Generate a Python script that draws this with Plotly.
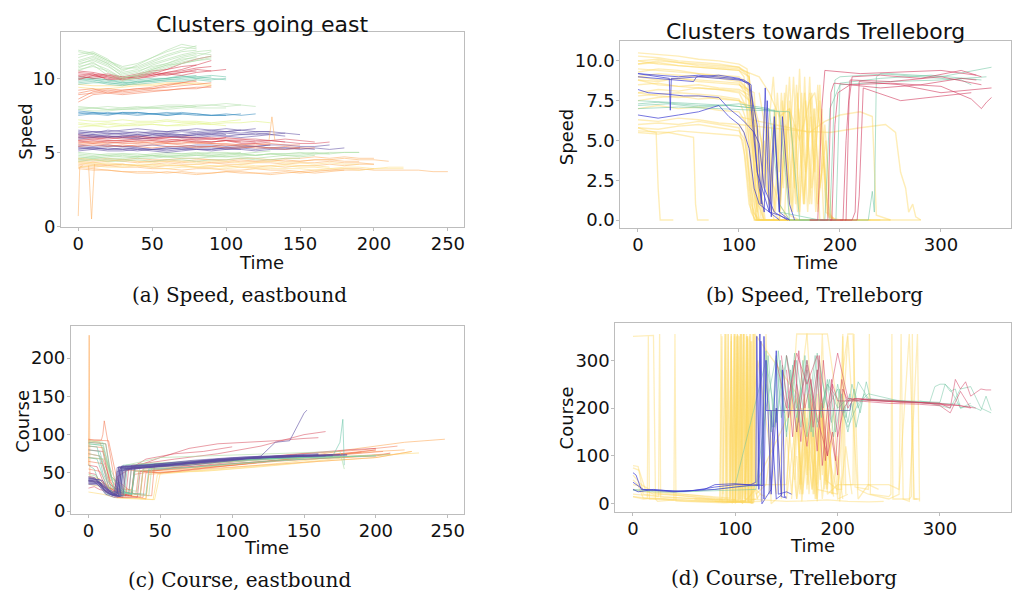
import plotly.graph_objects as go

# ---------------- colours (Spectral-like) ----------------
RED = "213,62,79"
ORANGE = "244,109,67"
LORANGE = "253,174,97"
YELLOW = "254,224,139"
LGREEN = "230,245,152"
GREEN = "171,221,164"
TEAL = "102,194,165"
BLUE = "50,136,189"
PURPLE = "94,79,162"
T_YELLOW = "253,214,95"
T_BLUE = "60,60,210"
T_GREEN = "110,196,160"
T_RED = "210,60,95"
T_GREY = "90,90,170"

# ---------------- (a) Speed, eastbound: values every A_STEP time units ----------------
A_STEP = 10
A_GREEN_TOP = [
    [11.2, 11.5, 11.0, 10.4, 10.6, 11.0, 11.3, 11.6, 11.8, 11.9],
    [10.8, 11.0, 10.6, 10.0, 10.3, 10.7, 11.0, 11.4, 11.6],
    [11.6, 11.8, 11.3, 10.5, 10.9, 11.4, 11.8, 12.1, 12.0],
    [10.5, 10.9, 10.2, 9.8, 10.1, 10.5, 10.8, 11.1, 11.3, 11.5],
    [11.0, 11.2, 10.8, 10.2, 10.4, 10.9, 11.2, 11.5, 11.7, 11.6],
    [11.8, 11.6, 11.1, 10.6, 10.8, 11.2, 11.6, 11.9, 12.2],
    [10.9, 11.3, 10.9, 10.1, 10.2, 10.6, 10.9, 11.2, 11.5, 11.8],
    [11.4, 11.7, 11.2, 10.7, 10.7, 11.1, 11.5, 11.8, 11.9],
    [10.7, 11.1, 10.4, 9.9, 10.0, 10.4, 10.7, 11.0, 11.2, 11.3],
    [11.1, 11.4, 11.0, 10.3, 10.5, 10.8, 11.0, 11.3, 11.4],
    [11.9, 11.7, 11.2, 10.8, 11.0, 11.4, 11.9, 12.3, 12.1],
    [10.6, 10.8, 10.5, 10.0, 10.2, 10.6, 10.9, 11.0, 11.2, 11.4],
]
A_RED_TOP = [
    [10.3, 10.2, 10.0, 9.9, 10.1, 10.2, 10.4, 10.5, 10.7, 10.8],
    [10.1, 10.3, 9.9, 10.0, 10.2, 10.3, 10.6, 11.0, 11.3, 11.5],
    [10.4, 10.3, 10.1, 10.0, 10.2, 10.4, 10.3, 10.4, 10.5],
    [10.0, 10.1, 10.2, 10.0, 10.1, 10.3, 10.2, 10.4, 10.6, 10.5, 10.6],
    [10.5, 10.4, 10.2, 10.1, 10.3, 10.5, 10.6, 10.8, 10.9],
    [10.2, 10.0, 10.1, 9.9, 10.0, 10.1, 10.3, 10.2, 10.4, 10.5],
    [9.9, 10.2, 10.3, 10.1, 10.0, 10.2, 10.4, 10.6, 10.9, 11.2],
]
A_TEAL_TOP = [
    [9.8, 9.9, 9.7, 9.6, 9.8, 9.9, 10.0, 10.1, 10.1, 10.0, 9.9],
    [10.0, 9.9, 9.8, 9.7, 9.7, 9.8, 9.9, 9.9, 10.0, 10.1],
    [9.7, 9.8, 9.6, 9.5, 9.7, 9.9, 10.0, 10.2, 10.0, 9.9, 10.0],
    [9.9, 10.0, 9.9, 9.7, 9.8, 9.8, 9.9, 10.0, 10.1, 10.2, 10.1],
    [9.6, 9.7, 9.7, 9.6, 9.6, 9.7, 9.8, 9.8, 9.9, 9.8],
    [10.1, 10.0, 9.9, 9.8, 9.9, 10.0, 10.0, 10.1, 10.2],
]
A_ORANGE_TOP = [
    [8.6, 9.1, 9.2, 9.1, 9.2, 9.3, 9.4, 9.5, 9.6, 9.7],
    [9.2, 9.3, 9.0, 9.2, 9.3, 9.3, 9.5, 9.7, 9.8],
    [8.9, 9.0, 9.1, 9.0, 9.1, 9.2, 9.2, 9.3, 9.4, 9.4],
    [8.4, 8.9, 9.0, 8.9, 9.0, 9.1, 9.2, 9.3, 9.3, 9.5],
    [9.0, 9.2, 9.3, 9.2, 9.3, 9.4, 9.6, 9.7, 9.9],
]
A_YELLOW_TOP = [
    [9.4, 9.3, 9.3, 9.4, 9.5, 9.5, 9.6, 9.6, 9.7, 9.6],
    [9.6, 9.5, 9.5, 9.5, 9.6, 9.6, 9.7, 9.7, 9.6, 9.5],
]
A_LGREEN_8 = [
    [8.0, 8.0, 7.9, 8.0, 8.1, 8.0, 8.1, 8.1, 8.2, 8.2, 8.1, 8.2, 8.1],
    [7.9, 7.8, 7.8, 7.9, 7.9, 8.0, 8.0, 8.1, 8.0, 8.0, 8.0],
    [8.1, 8.0, 8.1, 8.0, 8.0, 8.1, 8.2, 8.2, 8.1, 8.2, 8.3, 8.2],
    [7.9, 8.0, 7.9, 7.9, 8.0, 8.0, 7.9, 8.0, 8.1],
]
A_BLUE_76 = [
    [7.6, 7.7, 7.6, 7.6, 7.5, 7.6, 7.6, 7.7, 7.6, 7.5, 7.6, 7.5, 7.6],
    [7.7, 7.6, 7.7, 7.6, 7.7, 7.6, 7.5, 7.6, 7.6, 7.5, 7.5],
    [7.5, 7.6, 7.5, 7.7, 7.6, 7.6, 7.5, 7.6, 7.5, 7.5, 7.5, 7.6],
    [7.8, 7.7, 7.6, 7.7, 7.7, 7.6, 7.7, 7.6],
]
A_LGREEN_7 = [
    [7.0, 6.9, 7.0, 6.9, 7.0, 7.0, 7.1, 7.0, 7.0, 6.9, 7.0, 7.0, 7.1, 7.0],
    [6.7, 6.8, 6.7, 6.8, 6.8, 6.9, 6.8, 6.8, 6.9, 6.9, 6.8],
    [7.2, 7.1, 7.1, 7.2, 7.1, 7.1, 7.2, 7.1, 7.1, 7.0, 7.1, 7.2],
    [6.9, 6.8, 6.9, 6.8, 6.9, 6.9, 6.8, 6.9, 7.0, 6.9],
]
A_PURPLE_6 = [
    [6.3, 6.2, 6.3, 6.2, 6.1, 6.2, 6.3, 6.2, 6.3, 6.3, 6.4, 6.3, 6.4, 6.4, 6.3],
    [6.0, 6.1, 6.0, 6.1, 6.0, 6.2, 6.1, 6.1, 6.2, 6.2, 6.1, 6.2, 6.3, 6.2, 6.3, 6.2],
    [6.4, 6.3, 6.5, 6.4, 6.3, 6.4, 6.4, 6.5, 6.4, 6.5, 6.4, 6.5],
    [6.2, 6.1, 6.2, 6.3, 6.2, 6.1, 6.2, 6.2, 6.1, 6.2, 6.3, 6.2, 6.2, 6.3],
    [6.5, 6.4, 6.4, 6.5, 6.6, 6.5, 6.4, 6.5, 6.6, 6.5, 6.6, 6.5, 6.6],
    [5.9, 6.0, 6.1, 6.0, 5.9, 6.0, 6.1, 6.0, 6.0, 6.1, 6.1, 6.0, 6.1, 6.2, 6.1],
    [6.3, 6.4, 6.3, 6.3, 6.4, 6.3, 6.3, 6.4, 6.3, 6.4, 6.4, 6.5, 6.4, 6.4],
    [6.1, 6.2, 6.1, 6.1, 6.2, 6.3, 6.2, 6.1, 6.2, 6.3, 6.2],
]
A_RED_6 = [
    [5.9, 5.9, 6.0, 5.9, 5.9, 6.0, 5.9, 5.8, 5.9, 5.9, 5.8, 5.8, 5.7, 5.8, 5.7, 5.6, 5.6, 5.7],
    [6.1, 6.0, 6.1, 6.0, 6.1, 6.0, 6.0, 6.1, 6.0, 6.0, 5.9, 5.9, 5.8, 5.8, 5.7],
    [5.8, 5.9, 5.8, 5.8, 5.9, 5.9, 5.8, 5.9, 5.8, 5.7, 5.8, 5.7, 5.7],
    [6.0, 6.0, 5.9, 6.0, 6.0, 5.9, 6.0, 6.0, 5.9, 5.9, 6.0, 5.9, 5.9, 5.8, 5.9, 5.8, 5.7],
    [5.7, 5.8, 5.7, 5.7, 5.8, 5.8, 5.7, 5.8, 5.7, 5.7, 5.8, 5.6, 5.6, 5.7],
    [6.2, 6.1, 6.0, 6.1, 6.1, 6.0, 6.1, 6.0, 6.0, 5.9, 6.0],
]
A_ORANGE_55 = [
    [5.7, 5.6, 5.7, 5.6, 5.6, 5.7, 5.6, 5.6, 5.7, 5.6, 5.5, 5.5, 5.6, 5.5],
    [5.5, 5.6, 5.5, 5.4, 5.5, 5.5, 5.6, 5.5, 5.4, 5.4, 5.5, 5.4, 5.3, 5.3, 5.4, 5.3],
    [5.6, 5.7, 5.6, 5.7, 5.7, 5.6, 5.7, 5.7, 5.6, 5.6, 5.6, 5.5, 5.5, 5.6, 5.5, 5.5],
    [5.8, 5.7, 5.8, 5.8, 5.7, 5.8, 5.7, 5.8, 5.7, 5.7, 5.8, 5.7],
    [5.4, 5.5, 5.4, 5.5, 5.4, 5.3, 5.4, 5.4, 5.3, 5.4, 5.3, 5.3, 5.4, 5.3, 5.2, 5.3, 5.3],
]
A_BLUE_52 = [
    [5.3, 5.2, 5.3, 5.2, 5.1, 5.2, 5.2, 5.3, 5.2, 5.2, 5.3, 5.3, 5.4, 5.3, 5.3, 5.3, 5.2],
    [5.2, 5.3, 5.2, 5.3, 5.2, 5.2, 5.1, 5.2, 5.3, 5.3, 5.2, 5.3, 5.2, 5.3, 5.3, 5.2, 5.3, 5.2, 5.3],
    [5.4, 5.3, 5.4, 5.4, 5.3, 5.2, 5.3, 5.3, 5.4, 5.4, 5.3, 5.4, 5.4, 5.5],
    [5.1, 5.2, 5.1, 5.1, 5.2, 5.1, 5.0, 5.1, 5.2, 5.1, 5.2, 5.2, 5.1, 5.2, 5.2, 5.3],
    [5.5, 5.4, 5.5, 5.4, 5.4, 5.5, 5.4, 5.4, 5.5, 5.5, 5.4, 5.5, 5.4, 5.5, 5.5, 5.4, 5.4, 5.5],
    [5.3, 5.3, 5.2, 5.2, 5.3, 5.2, 5.3, 5.2, 5.2, 5.2, 5.3, 5.2],
]
A_GREEN_48 = [
    [4.7, 4.6, 4.7, 4.8, 4.7, 4.7, 4.8, 4.8, 4.9, 4.8, 4.9, 4.9, 4.8, 4.9, 4.9, 5.0, 4.9, 5.0, 5.0, 5.0],
    [4.5, 4.6, 4.5, 4.5, 4.6, 4.6, 4.7, 4.6, 4.6, 4.7, 4.7, 4.7, 4.6, 4.7, 4.8, 4.7, 4.8],
    [4.9, 4.8, 4.9, 4.9, 4.8, 4.9, 5.0, 4.9, 4.9, 5.0, 5.0, 4.9, 5.0, 5.1],
    [4.6, 4.7, 4.6, 4.6, 4.7, 4.8, 4.7, 4.7, 4.8, 4.8, 4.7, 4.8, 4.8, 4.9, 4.8, 4.8, 4.9, 4.9],
    [4.8, 4.7, 4.8, 4.7, 4.7, 4.8, 4.7, 4.8, 4.8, 4.7, 4.8, 4.9, 4.8, 4.9, 4.9, 4.9, 5.0, 4.9, 5.0, 5.0],
    [4.4, 4.5, 4.4, 4.4, 4.5, 4.4, 4.5, 4.5, 4.4, 4.5, 4.5, 4.6, 4.5, 4.5, 4.6, 4.6],
    [5.0, 4.9, 4.8, 4.9, 4.9, 4.8, 4.9, 4.9, 5.0, 4.9, 4.9, 5.0],
]
A_LORANGE_43 = [
    [4.4, 4.3, 4.4, 4.5, 4.4, 4.4, 4.5, 4.4, 4.5, 4.5, 4.4, 4.5, 4.4, 4.4, 4.5, 4.4, 4.5, 4.5, 4.6, 4.5, 4.5, 4.4],
    [4.1, 4.0, 4.1, 4.0, 4.0, 3.9, 3.9, 3.8, 3.9, 3.9, 3.8, 3.8, 3.9, 3.8, 3.8, 3.7, 3.8, 3.8, 3.9, 3.9, 3.8, 3.8, 3.8, 3.8, 3.7, 3.7],
    [4.2, 4.1, 4.2, 4.2, 4.1, 4.2, 4.3, 4.2, 4.2, 4.3, 4.2, 4.2, 4.3, 4.3, 4.2, 4.3, 4.3, 4.4, 4.3, 4.3, 4.2],
    [4.0, 3.9, 3.8, 3.7, 3.6, 3.6, 3.7, 3.6, 3.5, 3.6, 3.7, 3.6, 3.6, 3.5, 3.6, 3.7, 3.6, 3.7, 3.8, 3.8, 3.9],
    [4.3, 4.2, 4.1, 4.2, 4.1, 4.0, 4.1, 4.1, 4.0, 4.0, 4.1, 4.0, 4.0, 4.1, 4.0, 4.1, 4.1, 4.2, 4.1, 4.2, 4.2],
    [4.5, 4.4, 4.5, 4.4, 4.3, 4.4, 4.4, 4.3, 4.4, 4.3, 4.3, 4.4, 4.4, 4.5, 4.4, 4.4, 4.5, 4.5, 4.4, 4.4],
    [3.9, 3.8, 3.8, 3.7, 3.7, 3.7, 3.6, 3.7, 3.6, 3.6, 3.7, 3.7, 3.6, 3.6, 3.7, 3.6, 3.7, 3.8, 3.8],
    [4.6, 4.5, 4.6, 4.5, 4.6, 4.5, 4.5, 4.6, 4.6, 4.5, 4.5, 4.6, 4.6, 4.5, 4.6, 4.6, 4.7, 4.6, 4.7, 4.6, 4.6],
]
A_YELLOW_42 = [
    [4.3, 4.2, 4.3, 4.2, 4.1, 4.1, 4.2, 4.1, 4.0, 4.1, 4.0, 4.1, 4.0, 4.0, 4.1, 4.0, 4.0, 3.9, 4.0, 4.0, 3.9, 4.0, 4.0],
    [4.6, 4.5, 4.4, 4.5, 4.4, 4.3, 4.4, 4.4, 4.3, 4.4, 4.4, 4.3, 4.3, 4.4, 4.3, 4.3, 4.2, 4.3, 4.2, 4.2],
    [4.4, 4.3, 4.2, 4.1, 4.2, 4.2, 4.1, 4.1, 4.2, 4.1, 4.1, 4.2, 4.1, 4.1, 4.2, 4.1, 4.1, 4.0],
    [4.0, 4.1, 4.0, 4.0, 4.1, 4.0, 3.9, 4.0, 4.0, 3.9, 3.9, 4.0, 3.9, 3.9, 3.9, 3.9, 3.8, 3.9, 3.9, 3.8, 3.9, 3.9, 3.9],
]
A_SPIKE_T = [[0, 1, 3], [7, 9, 11], [129, 131, 133]]
A_SPIKE_V = [[0.7, 4.0, 4.1], [4.1, 0.5, 4.2], [5.8, 7.4, 5.8]]

# ---------------- (b) Speed, Trelleborg: (time, value) pairs ----------------
B_YELLOW_T = [
    [0, 20, 40, 60, 80, 100, 110, 115, 118, 150, 200, 280],
    [0, 20, 40, 60, 80, 100, 112, 120, 125, 200],
    [0, 20, 40, 60, 80, 100, 108, 116, 120, 140, 145, 150, 160],
    [0, 20, 40, 60, 80, 100, 106, 112, 118, 180],
    [0, 20, 40, 60, 80, 100, 110, 118, 125, 130, 135, 140, 145, 150, 155, 160, 165, 170, 175, 180, 190],
    [0, 20, 40, 60, 80, 100, 112, 120, 128, 135, 142, 148, 154, 160, 166, 172, 178, 184, 200],
    [0, 10, 18, 20, 22, 35],
    [0, 30, 55, 57, 59, 70],
    [0, 20, 40, 60, 80, 100, 105, 110, 114, 120, 240],
    [0, 20, 40, 60, 80, 100, 110, 120, 130, 140, 145, 150, 165],
    [0, 20, 40, 60, 80, 100, 115, 125, 135, 140, 150, 158, 165, 172, 180, 186, 192, 210],
    [0, 20, 40, 60, 80, 100, 106, 112, 116, 180],
    [100, 120, 150, 170, 185, 200, 220, 232, 236, 250],
    [100, 130, 160, 190, 220, 245, 255, 260, 265, 268, 272, 275, 280],
    [0, 20, 40, 60, 80, 100, 120, 130, 140, 150, 160, 170, 175, 180, 185, 188, 195],
    [0, 20, 40, 60, 80, 100, 108, 114, 120, 160],
    [0, 20, 40, 60, 80, 100, 108, 113, 117, 130],
    [0, 20, 40, 60, 80, 100, 110, 116, 122, 150],
    [0, 20, 40, 60, 80, 100, 110, 118, 124, 170],
    [0, 20, 40, 60, 80, 100, 112, 119, 126, 210],
    [0, 20, 40, 60, 80, 100, 106, 111, 115, 160],
    [0, 20, 40, 60, 80, 100, 110, 120, 130, 140],
    [0, 20, 40, 60, 80, 100, 115, 122, 130, 135, 220],
    [0, 20, 40, 60, 80, 100, 105, 112, 118, 250],
    [0, 20, 40, 60, 80, 100, 104, 110, 116, 140],
    [0, 20, 40, 60, 80, 100, 110, 116, 125, 190],
    [110, 120, 126, 132, 138, 144, 150, 156, 162, 168, 174, 180, 186, 190, 200],
    [100, 115, 122, 129, 136, 143, 150, 157, 164, 171, 178, 185, 192, 230],
    [120, 128, 134, 140, 147, 153, 159, 166, 172, 178, 184, 188, 200],
    [140, 146, 152, 158, 164, 170, 176, 182, 188, 194],
    [145, 150, 155, 160, 165, 170, 175, 180, 186, 195],
]
B_YELLOW_V = [
    [10.3, 10.2, 10.0, 9.9, 9.8, 9.6, 9.0, 4.0, 0, 0, 0, 0],
    [9.5, 9.4, 9.3, 9.2, 9.0, 8.8, 8.0, 2.0, 0, 0],
    [8.5, 8.6, 8.4, 8.3, 8.2, 8.0, 7.0, 3.0, 0, 0, 5.0, 0.3, 0],
    [5.8, 5.7, 5.9, 6.0, 5.8, 5.6, 5.0, 1.0, 0, 0],
    [8.0, 8.2, 8.1, 8.3, 8.2, 8.1, 7.5, 0.5, 5.0, 1.0, 7.0, 0.5, 8.0, 1.0, 6.0, 0.3, 9.0, 1.0, 7.0, 0, 0],
    [9.0, 9.2, 9.1, 9.0, 8.9, 8.7, 8.0, 1.0, 6.0, 0.5, 8.0, 2.0, 9.0, 0.5, 7.5, 1.0, 8.5, 0, 0],
    [5.8, 5.6, 5.5, 2.0, 0, 0],
    [5.6, 5.5, 5.2, 1.0, 0, 0],
    [10.0, 9.8, 9.7, 9.6, 9.5, 9.4, 9.0, 5.0, 0.5, 0, 0],
    [7.5, 7.7, 7.8, 7.6, 7.7, 7.5, 7.0, 5.5, 3.0, 1.0, 0.5, 0, 0],
    [8.8, 8.7, 8.9, 8.8, 8.7, 8.6, 7.0, 2.0, 6.5, 1.0, 7.0, 0.5, 8.0, 2.0, 7.5, 1.5, 0, 0],
    [6.0, 6.1, 6.0, 6.2, 6.0, 5.8, 4.0, 0.5, 0, 0],
    [6.5, 6.2, 5.8, 5.5, 6.2, 6.6, 6.8, 6.5, 0.3, 0],
    [6.0, 5.8, 5.6, 5.5, 5.8, 6.0, 5.5, 3.0, 2.0, 0.5, 1.0, 0.2, 0],
    [9.8, 10.0, 9.9, 9.7, 9.6, 9.5, 9.0, 8.0, 6.5, 7.0, 5.0, 7.5, 8.0, 6.0, 3.0, 0.5, 0],
    [7.0, 7.2, 7.0, 7.1, 6.9, 6.8, 6.0, 2.0, 0, 0],
    [10.5, 10.4, 10.3, 10.1, 10.0, 9.8, 9.5, 3.0, 0, 0],
    [9.8, 9.9, 9.7, 9.6, 9.5, 9.4, 9.0, 4.0, 0, 0],
    [9.0, 8.8, 8.9, 8.7, 8.6, 8.5, 8.0, 2.5, 0, 0],
    [8.8, 8.5, 8.4, 8.5, 8.3, 8.2, 7.8, 3.0, 0, 0],
    [7.8, 7.9, 8.0, 7.9, 7.8, 7.6, 6.5, 2.0, 0, 0],
    [9.3, 9.5, 9.4, 9.2, 9.1, 9.0, 8.5, 6.0, 1.0, 0],
    [8.0, 7.8, 7.7, 7.8, 7.6, 7.5, 7.0, 4.0, 1.0, 0, 0],
    [6.3, 6.2, 6.4, 6.3, 6.1, 6.0, 5.5, 2.0, 0, 0],
    [5.5, 5.4, 5.6, 5.5, 5.4, 5.3, 5.0, 1.0, 0, 0],
    [10.0, 10.1, 9.9, 9.8, 9.7, 9.6, 9.2, 1.5, 0, 0],
    [9.0, 3.0, 7.0, 1.0, 8.0, 2.0, 9.0, 1.0, 8.0, 0.5, 7.0, 2.0, 5.0, 0, 0],
    [8.5, 8.0, 1.0, 6.0, 0.5, 7.5, 2.0, 8.5, 1.0, 6.5, 0.5, 6.0, 0, 0],
    [8.0, 5.0, 9.0, 3.0, 8.5, 0.5, 7.0, 3.0, 8.0, 1.0, 4.0, 0.2, 0],
    [0, 6.0, 0.5, 8.0, 1.0, 9.0, 0.5, 7.0, 0.3, 0],
    [0, 7.5, 2.0, 9.5, 1.0, 8.0, 3.0, 8.5, 0.5, 0],
]
B_BLUE_T = [
    [0, 20, 40, 60, 80, 95, 105, 112, 118, 125, 130, 140],
    [0, 20, 40, 55, 58, 80, 100, 110, 115, 120, 125, 128, 132, 135, 140, 150],
    [0, 10, 30, 45, 60, 80, 90, 100, 108, 115, 120, 125, 135, 145, 148],
    [0, 20, 40, 60, 80, 90, 100, 105, 110, 115, 120, 130, 140, 150],
    [0, 20, 31, 32, 33, 40, 60, 80, 100, 110, 118, 122, 126, 130, 135, 140, 143, 150, 155],
]
B_BLUE_V = [
    [9.2, 9.1, 9.0, 9.1, 9.0, 8.9, 8.8, 8.5, 3.0, 1.5, 0.5, 0],
    [9.0, 8.9, 8.8, 8.7, 9.0, 9.1, 8.9, 8.5, 5.0, 2.0, 0.5, 7.5, 0.2, 6.0, 0.5, 0],
    [8.2, 8.0, 7.9, 7.8, 7.8, 7.7, 7.0, 6.5, 6.0, 5.5, 4.8, 2.0, 0.5, 0.1, 0],
    [6.6, 6.4, 6.6, 6.8, 7.2, 6.5, 6.0, 5.5, 4.5, 2.0, 1.0, 0.5, 0.3, 0],
    [9.2, 9.0, 8.9, 6.9, 8.9, 8.9, 9.0, 8.9, 8.8, 8.6, 6.0, 1.0, 8.3, 0.5, 6.5, 0.5, 6.5, 1.0, 0],
]
B_GREEN_T = [
    [0, 20, 40, 60, 80, 100, 120, 130, 140, 150, 190, 195, 200, 250, 300, 350],
    [0, 30, 60, 90, 120, 140, 146, 150, 228, 232, 234, 236, 240, 280, 320, 330],
    [0, 40, 80, 120, 150, 160, 185, 190, 200, 250, 300, 345],
    [0, 30, 60, 90, 120, 135, 140, 180, 196, 200, 240, 290, 340],
]
B_GREEN_V = [
    [7.3, 7.4, 7.3, 7.2, 7.2, 7.3, 7.1, 7.0, 1.0, 0, 0, 8.8, 9.0, 9.2, 9.0, 9.6],
    [7.5, 7.4, 7.3, 7.2, 7.0, 6.8, 3.0, 0, 0, 1.8, 0.5, 9.0, 9.2, 9.0, 8.8, 8.5],
    [7.0, 7.1, 7.0, 6.9, 6.8, 0, 0, 7.0, 8.5, 8.7, 8.8, 9.0],
    [7.2, 7.3, 7.1, 7.2, 7.0, 6.9, 0.5, 0, 0, 8.6, 8.9, 9.1, 8.8],
]
B_RED_T = [
    [170, 178, 182, 185, 220, 260, 300, 335],
    [180, 192, 195, 198, 210, 250, 300, 330, 340, 345, 350],
    [190, 203, 206, 210, 250, 300, 340],
    [200, 212, 215, 219, 260, 300, 350],
    [205, 217, 219, 223, 260, 300, 330],
    [170, 188, 191, 194, 240, 280, 320, 335],
    [190, 206, 209, 212, 240, 280, 320, 340],
]
B_RED_V = [
    [0, 0, 7.0, 9.4, 9.2, 9.3, 9.4, 9.1],
    [0, 0, 6.0, 8.0, 8.5, 8.6, 8.4, 7.6, 7.0, 7.4, 7.7],
    [0, 0, 5.0, 8.8, 8.7, 9.0, 8.5],
    [0, 0, 0.5, 8.7, 8.5, 8.0, 8.3],
    [0, 0, 1.5, 8.3, 7.5, 7.8, 8.0],
    [0, 0, 8.0, 8.6, 8.3, 8.5, 8.9, 8.8],
    [0, 0, 7.5, 9.0, 9.1, 8.9, 9.4, 9.0],
]

# ---------------- (c) Course, eastbound: (time, value) pairs ----------------
C_BLUE_T = [
    [0, 5, 10, 15, 20, 22, 40, 60, 80, 100, 120, 140, 160, 180],
    [0, 8, 12, 18, 21, 23, 50, 80, 110, 140, 170],
    [0, 4, 14, 19, 20, 30, 60, 90, 120, 150],
    [0, 6, 12, 18, 24, 26, 60, 90, 120, 150, 170],
    [0, 8, 14, 20, 22, 40, 70, 100, 120, 130, 140, 145, 150, 152],
    [0, 3, 9, 16, 19, 21, 45, 75, 105, 135, 165],
    [0, 7, 13, 17, 20, 22, 45, 70, 95, 120, 145, 170, 180],
    [0, 5, 11, 17, 21, 23, 55, 85, 115, 145],
    [0, 6, 12, 19, 22, 24, 40, 65, 90, 115, 140, 165],
    [0, 9, 15, 20, 23, 25, 60, 100, 140, 175],
    [0, 4, 10, 16, 20, 21, 35, 60, 85, 110, 135, 160],
    [0, 8, 14, 21, 23, 50, 80, 110, 140, 160],
]
C_BLUE_V = [
    [40, 40, 32, 22, 22, 57, 58, 62, 66, 68, 70, 71, 72, 73],
    [38, 37, 25, 20, 21, 55, 60, 64, 69, 71, 73],
    [45, 44, 26, 23, 52, 56, 61, 67, 70, 72],
    [36, 36, 22, 18, 20, 54, 60, 66, 70, 72, 74],
    [42, 41, 28, 24, 56, 57, 60, 66, 72, 90, 92, 110, 128, 132],
    [41, 40, 30, 21, 20, 58, 59, 63, 68, 71, 72],
    [37, 36, 25, 21, 22, 56, 58, 63, 67, 70, 72, 74, 74],
    [44, 42, 27, 22, 20, 59, 61, 66, 70, 73],
    [40, 39, 30, 20, 21, 53, 57, 61, 65, 69, 71, 73],
    [35, 34, 24, 19, 20, 55, 61, 68, 72, 74],
    [42, 42, 35, 24, 22, 57, 59, 62, 67, 70, 72, 73],
    [39, 38, 26, 20, 58, 62, 67, 71, 73, 75],
]
C_PURPLE_T = [
    [0, 6, 12, 18, 20, 40, 70, 100, 130, 160],
    [0, 10, 16, 22, 24, 50, 90, 120, 150],
]
C_PURPLE_V = [
    [39, 38, 24, 20, 57, 60, 66, 70, 72, 74],
    [43, 40, 22, 19, 55, 59, 68, 71, 73],
]
C_TEAL_T = [
    [0, 6, 10, 16, 28, 30, 60, 90, 120, 150, 180, 200],
    [0, 10, 18, 30, 33, 60, 100, 140, 170, 175, 177, 178],
    [0, 4, 8, 14, 22, 24, 50, 80, 110, 140],
    [0, 12, 16, 26, 40, 42, 70, 100, 130, 175],
    [0, 8, 13, 20, 30, 32, 55, 85, 115, 145, 170],
    [0, 6, 12, 18, 25, 27, 50, 90, 130, 160],
]
C_TEAL_V = [
    [85, 84, 50, 25, 24, 58, 62, 65, 68, 70, 71, 72],
    [88, 86, 30, 22, 60, 63, 67, 70, 72, 90, 120, 60],
    [60, 55, 35, 22, 20, 60, 62, 64, 68, 70],
    [90, 88, 45, 24, 22, 55, 57, 62, 66, 70],
    [80, 78, 40, 24, 22, 58, 60, 64, 68, 70, 72],
    [70, 68, 35, 21, 20, 57, 61, 66, 70, 72],
]
C_GREEN_T = [
    [0, 10, 14, 22, 34, 36, 70, 100, 130, 160, 190, 210],
    [0, 5, 12, 24, 26, 50, 80, 110, 140, 175, 178],
    [0, 8, 16, 30, 32, 60, 90, 120, 150],
    [0, 9, 15, 26, 36, 38, 70, 110, 150, 190],
    [0, 12, 18, 28, 42, 44, 80, 120, 160, 200],
]
C_GREEN_V = [
    [92, 90, 60, 28, 26, 62, 65, 68, 70, 71, 72, 74],
    [48, 46, 22, 20, 60, 70, 72, 74, 76, 78, 55],
    [75, 72, 30, 22, 52, 56, 60, 64, 68],
    [88, 86, 45, 24, 22, 55, 60, 66, 70, 72],
    [70, 68, 32, 22, 20, 58, 62, 67, 70, 73],
]
C_ORANGE_T = [
    [0, 12, 16, 25, 38, 40, 60, 90, 130, 170, 210],
    [0, 10, 18, 36, 38, 70, 100, 150, 200, 210],
    [0, 4, 9, 10, 11, 20, 24, 26, 50, 80, 120, 160, 200],
    [0, 8, 14, 28, 33, 35, 60, 100, 140, 180, 205],
    [0, 10, 15, 22, 30, 32, 60, 100, 140, 180, 200],
    [0, 14, 20, 32, 44, 46, 80, 120, 160, 190],
    [0, 10, 16, 30, 32, 70, 110, 150, 190, 215],
]
C_ORANGE_V = [
    [90, 88, 40, 20, 18, 50, 52, 58, 65, 70, 75],
    [70, 68, 26, 22, 55, 58, 62, 68, 72, 76],
    [94, 93, 93, 100, 118, 20, 18, 54, 50, 56, 64, 72, 80],
    [55, 52, 30, 24, 22, 52, 55, 62, 68, 74, 78],
    [85, 83, 38, 22, 20, 56, 60, 65, 70, 75, 80],
    [93, 92, 40, 22, 20, 62, 64, 68, 73, 77],
    [65, 62, 28, 20, 48, 60, 68, 75, 80, 85],
]
C_RED_T = [
    [0, 6, 12, 20, 26, 28, 50, 70, 90, 110, 130, 150, 160],
    [0, 4, 8, 18, 20, 40, 60, 80, 100],
    [0, 10, 15, 24, 30, 32, 60, 100, 140, 180, 200],
    [0, 8, 14, 22, 28, 30, 60, 90, 120, 150, 165],
    [0, 5, 12, 20, 34, 36, 70, 110, 140],
]
C_RED_V = [
    [60, 58, 30, 20, 20, 55, 70, 82, 88, 90, 92, 95, 96],
    [30, 32, 28, 25, 45, 68, 75, 78, 84],
    [80, 78, 35, 22, 21, 56, 60, 66, 74, 80, 82],
    [75, 72, 32, 21, 20, 60, 68, 75, 85, 100, 104],
    [50, 48, 25, 18, 18, 52, 58, 66, 70],
]
C_LORANGE_T = [
    [0, 0.5, 1, 8, 14, 30, 32, 60, 100, 140, 180, 220, 240, 248],
    [0, 6, 18, 34, 40, 42, 80, 120, 160, 200, 225],
    [0, 8, 16, 30, 36, 38, 70, 110, 150, 200, 220],
]
C_LORANGE_V = [
    [60, 230, 45, 42, 30, 28, 52, 55, 60, 68, 80, 90, 93, 94],
    [45, 40, 24, 18, 16, 48, 55, 60, 65, 70, 78],
    [92, 90, 45, 20, 18, 52, 55, 62, 70, 78, 80],
]
C_YELLOW_T = [
    [0, 15, 20, 40, 42, 80, 120, 160, 200, 225],
    [0, 10, 20, 45, 48, 90, 130, 170, 210],
    [0, 12, 20, 46, 50, 90, 140, 190, 230],
]
C_YELLOW_V = [
    [35, 30, 18, 16, 50, 52, 58, 65, 70, 78],
    [25, 22, 17, 15, 48, 55, 62, 70, 74],
    [40, 36, 18, 15, 50, 54, 62, 72, 76],
]

# ---------------- (d) Course, Trelleborg: (time, value) pairs ----------------
D_YELLOW_T = [
    [0, 20, 22, 24, 40, 60, 80, 100, 104, 105, 108, 109, 120, 125],
    [0, 5, 10, 30, 50, 70, 90, 100, 102, 103, 110, 112, 113, 118],
    [0, 8, 20, 40, 60, 80, 95, 96, 97, 100, 101, 102, 115, 116, 117],
    [0, 10, 30, 60, 80, 90, 91, 92, 105, 106, 107, 122, 140, 150, 160, 170, 180, 200],
    [0, 10, 25, 26, 27, 50, 80, 100, 110, 111, 112, 125, 130, 135, 140],
    [120, 130, 140, 145, 150, 155, 160, 165, 170, 175, 180, 185, 190, 200, 210, 220, 230, 240],
    [100, 150, 160, 170, 180, 185, 190, 200, 220, 250, 260, 270, 275, 280],
    [110, 130, 150, 170, 190, 210, 230, 245],
    [150, 170, 190, 200, 210, 215, 220, 230, 250, 260, 262, 264, 270, 278, 280],
    [0, 14, 15, 16, 40, 41, 42, 70, 98, 99, 100, 114, 115, 116],
    [60, 85, 86, 87, 110, 112, 113, 160, 165, 170, 175, 180, 185, 190, 195],
    [80, 118, 119, 160, 163, 168, 172, 176, 180, 184, 188, 200, 205, 208],
    [88, 90, 91, 93, 94, 96, 97, 99, 100, 102, 103, 105, 106, 108, 109, 111, 112, 114, 115, 117, 118, 120, 121, 124, 130],
    [85, 87, 88, 90, 92, 93, 95, 96, 98, 100, 101, 103, 104, 106, 107, 109, 110, 112, 113, 115, 116, 118, 119, 122],
    [95, 96, 97, 99, 100, 102, 104, 105, 107, 108, 110, 111, 113, 114, 116, 118, 120],
    [0, 5, 10, 30, 50, 70, 90, 110, 120],
    [0, 10, 20, 40, 60, 80, 100, 115],
    [0, 10, 20, 40, 60, 80, 100, 110],
    [0, 6, 12, 30, 50, 70, 90, 105],
    [150, 155, 160, 165, 170, 175, 180, 185, 190, 195, 200, 210],
    [155, 160, 166, 172, 178, 184, 190, 196, 202, 208, 214],
    [160, 163, 167, 171, 175, 179, 183, 187, 191, 195, 199, 205],
    [200, 204, 205, 206, 215, 216, 217, 230, 231, 232, 250, 252, 253, 254, 270, 272, 273, 274, 278],
    [158, 161, 164, 167, 170, 173, 176, 179, 182, 185, 188, 191, 194],
    [162, 165, 168, 171, 174, 177, 180, 183, 186, 189, 192, 196],
]
D_YELLOW_V = [
    [350, 352, 10, 5, 8, 6, 5, 4, 350, 10, 355, 5, 30, 20],
    [80, 78, 20, 15, 12, 10, 8, 6, 355, 8, 6, 350, 4, 2],
    [60, 40, 25, 20, 18, 15, 12, 355, 10, 8, 350, 5, 3, 340, 0],
    [30, 25, 20, 15, 10, 8, 355, 5, 5, 355, 10, 300, 20, 200, 10, 150, 30, 20],
    [20, 18, 15, 355, 14, 12, 10, 8, 6, 350, 4, 5, 355, 0, 10],
    [20, 40, 200, 10, 150, 20, 180, 5, 120, 30, 160, 10, 110, 20, 350, 10, 40, 30],
    [40, 40, 355, 355, 40, 355, 20, 40, 40, 40, 30, 355, 10, 10],
    [10, 8, 5, 6, 8, 5, 4, 5],
    [10, 355, 355, 200, 355, 355, 30, 20, 10, 20, 355, 10, 5, 355, 5],
    [15, 12, 350, 10, 8, 355, 6, 5, 3, 355, 4, 2, 340, 5],
    [10, 5, 355, 4, 3, 350, 10, 220, 20, 180, 30, 230, 60, 200, 20],
    [5, 3, 355, 230, 40, 200, 20, 160, 10, 210, 50, 30, 350, 20],
    [20, 355, 10, 355, 5, 350, 8, 355, 0, 352, 6, 355, 2, 355, 10, 350, 4, 355, 0, 355, 5, 350, 10, 20, 15],
    [15, 350, 12, 355, 3, 355, 6, 340, 4, 355, 2, 352, 8, 355, 0, 355, 5, 345, 3, 355, 0, 355, 30, 10],
    [10, 355, 0, 350, 5, 355, 10, 355, 0, 355, 20, 355, 5, 350, 0, 355, 40],
    [40, 38, 12, 10, 5, 3, 2, 5, 10],
    [50, 30, 20, 18, 14, 8, 4, 3],
    [15, 10, 12, 10, 8, 5, 3, 6],
    [75, 70, 30, 25, 20, 15, 10, 5],
    [20, 230, 10, 200, 30, 220, 5, 180, 40, 150, 10, 20],
    [10, 180, 20, 230, 10, 210, 30, 200, 5, 120, 20],
    [100, 20, 220, 40, 190, 10, 240, 30, 170, 20, 100, 10],
    [30, 30, 355, 40, 40, 355, 35, 30, 355, 20, 15, 20, 355, 10, 10, 15, 355, 10, 10],
    [50, 200, 30, 170, 60, 230, 20, 190, 80, 210, 40, 150, 20],
    [180, 40, 230, 70, 200, 20, 160, 50, 220, 30, 130, 15],
]
D_BLUE_T = [
    [0, 3, 8, 20, 40, 60, 80, 100, 115, 120, 121, 123, 125, 128, 130, 135, 140, 145, 150],
    [0, 10, 30, 50, 70, 80, 100, 118, 122, 124, 126, 135, 140, 142, 150, 155],
    [0, 5, 20, 40, 60, 80, 100, 110, 120, 127, 128, 130, 135, 140, 145, 146, 148, 150],
]
D_BLUE_V = [
    [65, 60, 30, 28, 25, 28, 35, 40, 40, 45, 350, 30, 340, 10, 300, 20, 200, 15, 12],
    [45, 30, 28, 26, 30, 40, 42, 40, 38, 355, 0, 30, 320, 20, 25, 20],
    [30, 25, 30, 26, 28, 30, 35, 38, 40, 38, 350, 195, 195, 10, 18, 280, 15, 14],
]
D_GREY_T = [[133, 135, 212, 213]]
D_GREY_V = [[20, 195, 195, 210]]
D_GREEN_T = [
    [0, 20, 40, 60, 80, 100, 120, 125, 130, 135, 140, 145, 150, 160, 170, 180, 190, 200, 210, 220, 230, 260, 290, 310, 320, 330, 340, 350],
    [0, 30, 60, 90, 120, 130, 140, 150, 160, 170, 180, 190, 200, 210, 220, 230, 240, 270, 300, 305, 310, 320, 330],
    [100, 130, 140, 150, 160, 170, 180, 190, 200, 210, 220, 230, 260, 290, 300, 320],
    [125, 132, 138, 144, 150, 156, 162, 168, 174, 180, 186, 192, 198, 204, 210, 216, 222, 228, 232],
    [280, 290, 295, 300, 305, 310, 315, 320, 330, 340, 345, 350],
    [130, 136, 142, 148, 154, 160, 166, 172, 178, 184, 190, 196, 202, 208, 214, 220, 226, 230],
    [140, 146, 152, 158, 164, 170, 176, 182, 188, 194, 200, 206, 212, 218, 224, 260, 300],
]
D_GREEN_V = [
    [28, 25, 24, 26, 30, 35, 38, 40, 320, 150, 300, 180, 310, 200, 280, 170, 250, 220, 160, 210, 230, 215, 210, 200, 240, 245, 200, 190],
    [30, 27, 26, 28, 30, 200, 310, 150, 300, 140, 315, 200, 240, 150, 255, 220, 218, 215, 212, 250, 240, 200, 210],
    [40, 300, 170, 310, 180, 300, 160, 250, 200, 220, 215, 217, 214, 212, 210, 208],
    [40, 310, 160, 300, 140, 290, 170, 310, 150, 280, 200, 260, 150, 230, 170, 240, 190, 255, 220],
    [215, 212, 245, 250, 250, 235, 240, 200, 205, 195, 225, 195],
    [250, 160, 320, 190, 280, 150, 300, 200, 310, 180, 260, 140, 240, 180, 250, 200, 230, 215],
    [170, 290, 200, 315, 160, 260, 140, 300, 220, 170, 250, 190, 230, 160, 218, 214, 210],
]
D_RED_T = [
    [140, 150, 160, 170, 180, 190, 195, 200, 205, 210, 220, 240, 260, 280, 300, 310, 315, 320, 325, 330, 340, 345, 350],
    [150, 160, 170, 180, 190, 195, 200, 220, 250, 280, 300, 310, 320, 330],
    [160, 170, 180, 185, 190, 200, 210, 230, 260, 290, 320, 335],
    [145, 152, 158, 164, 170, 176, 182, 188, 194, 200, 206, 212, 218, 224, 230, 260, 300, 320, 330],
    [150, 156, 162, 168, 174, 180, 186, 192, 198, 204, 210, 216, 240, 280, 310],
]
D_RED_V = [
    [300, 200, 315, 250, 310, 100, 150, 60, 240, 215, 220, 218, 215, 212, 210, 200, 260, 240, 255, 225, 240, 238, 238],
    [310, 150, 300, 180, 100, 250, 215, 215, 210, 208, 205, 190, 235, 200],
    [250, 120, 280, 80, 200, 315, 220, 218, 212, 210, 205, 200],
    [310, 180, 300, 130, 290, 160, 310, 90, 260, 140, 200, 220, 215, 218, 216, 214, 210, 205, 200],
    [280, 140, 320, 200, 260, 110, 300, 160, 90, 260, 200, 220, 215, 212, 205],
]

# ---------------- figure ----------------
fig = go.Figure()


def add_step_lines(series, color, alpha, axis):
    for vals in series:
        xs = [i * A_STEP for i in range(len(vals))]
        fig.add_trace(go.Scatter(x=xs, y=vals, mode="lines", xaxis="x" + axis, yaxis="y" + axis,
                                 line=dict(color=f"rgba({color},{alpha})", width=1),
                                 hoverinfo="skip", showlegend=False))


def add_pair_lines(ts, vs, color, alpha, axis, width=1):
    for t, v in zip(ts, vs):
        fig.add_trace(go.Scatter(x=t, y=v, mode="lines", xaxis="x" + axis, yaxis="y" + axis,
                                 line=dict(color=f"rgba({color},{alpha})", width=width),
                                 hoverinfo="skip", showlegend=False))


# (a)
add_step_lines(A_LORANGE_43, LORANGE, 0.55, "")
add_step_lines(A_YELLOW_42, YELLOW, 0.6, "")
add_step_lines(A_GREEN_48, GREEN, 0.6, "")
add_step_lines(A_BLUE_52, PURPLE, 0.55, "")
add_step_lines(A_ORANGE_55, ORANGE, 0.5, "")
add_step_lines(A_RED_6, RED, 0.5, "")
add_step_lines(A_PURPLE_6, PURPLE, 0.55, "")
add_step_lines(A_LGREEN_7, LGREEN, 0.7, "")
add_step_lines(A_BLUE_76, BLUE, 0.55, "")
add_step_lines(A_LGREEN_8, GREEN, 0.5, "")
add_step_lines(A_YELLOW_TOP, YELLOW, 0.7, "")
add_step_lines(A_ORANGE_TOP, ORANGE, 0.5, "")
add_step_lines(A_TEAL_TOP, TEAL, 0.55, "")
add_step_lines(A_RED_TOP, RED, 0.55, "")
add_step_lines(A_GREEN_TOP, GREEN, 0.55, "")
add_pair_lines(A_SPIKE_T, A_SPIKE_V, LORANGE, 0.55, "")

# (b)
add_pair_lines(B_YELLOW_T, B_YELLOW_V, T_YELLOW, 0.45, "2", width=1.4)
add_pair_lines(B_GREEN_T, B_GREEN_V, T_GREEN, 0.55, "2")
add_pair_lines(B_BLUE_T, B_BLUE_V, T_BLUE, 0.7, "2")
add_pair_lines(B_RED_T, B_RED_V, T_RED, 0.6, "2")

# (c)
add_pair_lines(C_YELLOW_T, C_YELLOW_V, YELLOW, 0.7, "3")
add_pair_lines(C_LORANGE_T, C_LORANGE_V, LORANGE, 0.6, "3")
add_pair_lines(C_ORANGE_T, C_ORANGE_V, ORANGE, 0.5, "3")
add_pair_lines(C_RED_T, C_RED_V, RED, 0.5, "3")
add_pair_lines(C_GREEN_T, C_GREEN_V, GREEN, 0.6, "3")
add_pair_lines(C_TEAL_T, C_TEAL_V, TEAL, 0.55, "3")
add_pair_lines(C_PURPLE_T, C_PURPLE_V, PURPLE, 0.6, "3")
add_pair_lines(C_BLUE_T, C_BLUE_V, PURPLE, 0.6, "3")

# (d)
add_pair_lines(D_YELLOW_T, D_YELLOW_V, T_YELLOW, 0.42, "4", width=1.3)
add_pair_lines(D_GREEN_T, D_GREEN_V, T_GREEN, 0.5, "4")
add_pair_lines(D_RED_T, D_RED_V, T_RED, 0.5, "4")
add_pair_lines(D_BLUE_T, D_BLUE_V, T_BLUE, 0.7, "4")
add_pair_lines(D_GREY_T, D_GREY_V, T_GREY, 0.7, "4")

W, H = 1017, 602
TICKFONT = dict(family="DejaVu Sans", size=18, color="#111111")


def axis(domain, rng, tickvals, ticktext=None, anchor=None, is_y=False):
    d = dict(domain=domain, range=rng, tickvals=tickvals, showgrid=False, zeroline=False,
             showline=True, mirror=True, linecolor="#bdbdbd", linewidth=1,
             ticks="outside", ticklen=3, tickcolor="#bdbdbd",
             tickfont=TICKFONT, anchor=anchor, ticklabelstandoff=-2 if is_y else -3)
    if ticktext is not None:
        d["ticktext"] = ticktext
    return d


def fx(px):
    return px / W


def fy(py):
    return 1 - py / H


fig.update_layout(
    width=W, height=H, margin=dict(l=0, r=0, t=0, b=0),
    paper_bgcolor="white", plot_bgcolor="white",
    xaxis=axis([fx(61), fx(464)], [-11.7, 260.6], [0, 50, 100, 150, 200, 250], anchor="y"),
    yaxis=axis([fy(231), fy(33)], [-0.05, 13.1], [0, 5, 10], anchor="x", is_y=True),
    xaxis2=axis([fx(621), fx(1012)], [-17.4, 369.3], [0, 100, 200, 300], anchor="y2"),
    yaxis2=axis([fy(232), fy(42)], [-0.51, 11.23], [0, 2.5, 5, 7.5, 10],
                ["0.0", "2.5", "5.0", "7.5", "10.0"], anchor="x2", is_y=True),
    xaxis3=axis([fx(71), fx(464)], [-12.2, 261], [0, 50, 100, 150, 200, 250], anchor="y3"),
    yaxis3=axis([fy(523), fy(332)], [-4.2, 241.4], [0, 50, 100, 150, 200], anchor="x3", is_y=True),
    xaxis4=axis([fx(616), fx(1012)], [-17.2, 369.4], [0, 100, 200, 300], anchor="y4"),
    yaxis4=axis([fy(521), fy(328)], [-17.9, 378.9], [0, 100, 200, 300], anchor="x4", is_y=True),
)

LABEL = dict(family="DejaVu Sans", size=18, color="#111111")
TITLE = dict(family="DejaVu Sans", size=22, color="#111111")
CAP = dict(family="DejaVu Serif", size=20, color="#111111")

texts = [
    ("Clusters going east", 262, 25, TITLE, 0),
    ("Clusters towards Trelleborg", 816, 32, TITLE, 0),
    ("Speed", 26, 134, LABEL, -90),
    ("Speed", 567, 139, LABEL, -90),
    ("Course", 23, 428, LABEL, -90),
    ("Course", 567, 425, LABEL, -90),
    ("Time", 262, 267, LABEL, 0),
    ("Time", 816, 267, LABEL, 0),
    ("Time", 267, 557, LABEL, 0),
    ("Time", 813, 555, LABEL, 0),
    ("(a) Speed, eastbound", 240, 300, CAP, 0),
    ("(b) Speed, Trelleborg", 815, 300, CAP, 0),
    ("(c) Course, eastbound", 240, 590, CAP, 0),
    ("(d) Course, Trelleborg", 785, 588, CAP, 0),
]
for txt, x, y, font, ang in texts:
    fig.add_annotation(text=txt, x=fx(x), y=fy(y), xref="paper", yref="paper",
                       showarrow=False, font=font, textangle=ang,
                       xanchor="center", yanchor="middle")

fig.write_html("out.html", config={"displayModeBar": False},
               post_script="document.body.style.margin='0';")
